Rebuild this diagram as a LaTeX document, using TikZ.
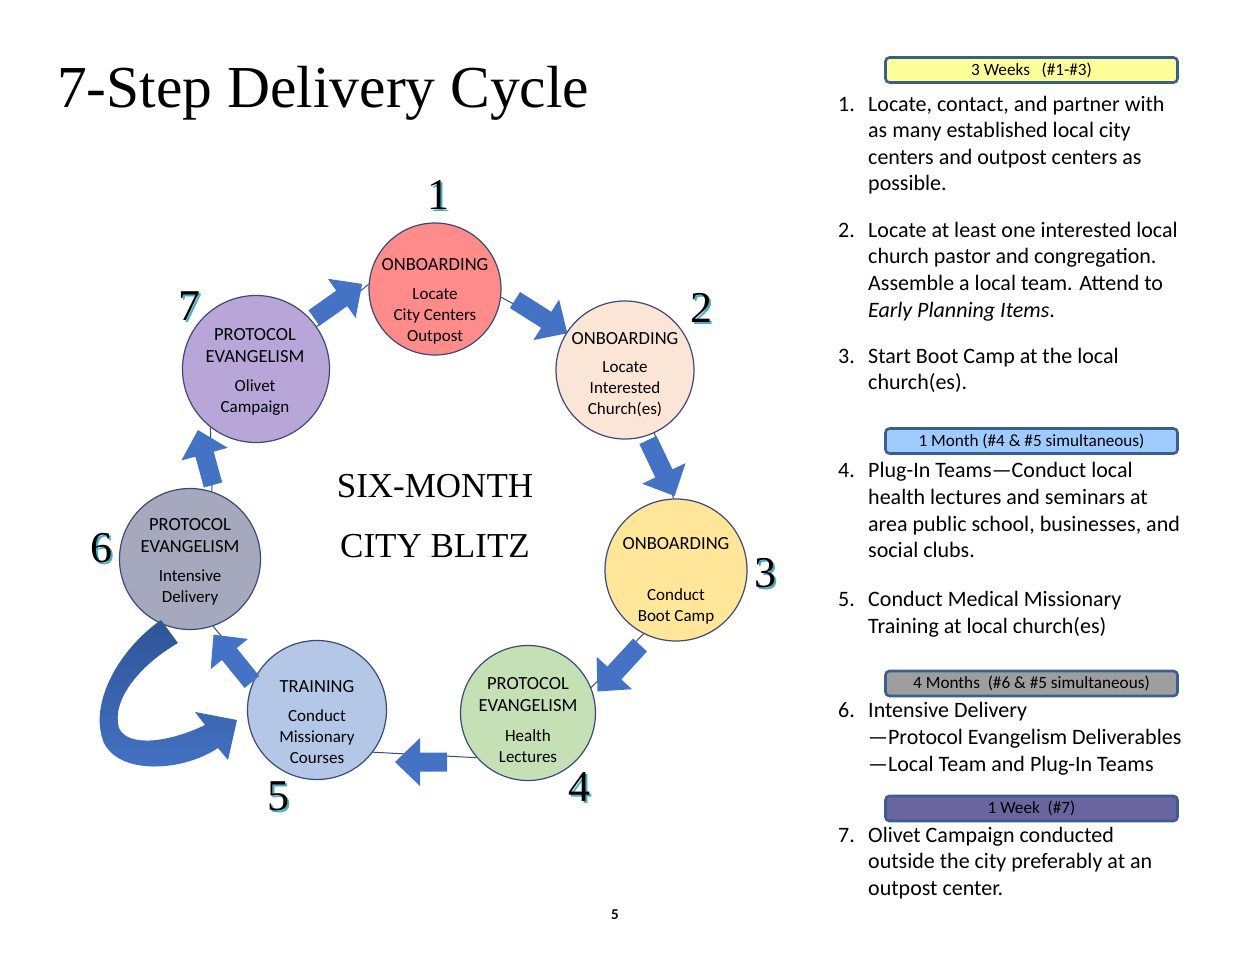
\documentclass[tikz,border=0pt]{standalone}
\usepackage{fontspec}
\setmainfont{Carlito}
\newfontfamily\serifx{Liberation Serif}
\definecolor{arrowblue}{HTML}{4472C4}
\definecolor{arrowdark}{HTML}{2F5597}
\definecolor{ringline}{HTML}{3B4A7A}
\definecolor{numblue}{HTML}{4BACC6}
\definecolor{boxline}{HTML}{3A5F8F}
\definecolor{cone}{HTML}{FF8B8B}
\definecolor{ctwo}{HTML}{FBE5D6}
\definecolor{cthree}{HTML}{FFE699}
\definecolor{cfour}{HTML}{C5E0B4}
\definecolor{cfive}{HTML}{B4C7E7}
\definecolor{csix}{HTML}{A6A8BE}
\definecolor{cseven}{HTML}{B8A6D9}
\definecolor{byellow}{HTML}{FFFF99}
\definecolor{bblue}{HTML}{9FCBFF}
\definecolor{bgray}{HTML}{9E9E9E}
\definecolor{bpurple}{HTML}{6A659E}
\begin{document}
\begin{tikzpicture}[x=1pt,y=-1pt,
  stepcircle/.style={circle,draw=ringline,line width=1.2pt,inner sep=0pt},
  head/.style={font=\fontsize{18.5}{22}\selectfont,align=center,inner sep=0pt},
  sub/.style={font=\fontsize{17}{21}\selectfont,align=center,inner sep=0pt},
  conn/.style={draw=ringline,line width=1pt},
  numtxt/.style={font=\serifx\fontsize{44}{48}\selectfont,inner sep=0pt},
  numshadow/.style={numtxt,text=numblue},
  item/.style={font=\fontsize{22}{26}\selectfont,anchor=base west,inner sep=0pt},
  periodbox/.style={draw=boxline,line width=2.6pt,rounded corners=4pt,minimum width=292pt,minimum height=25pt,inner sep=0pt,font=\fontsize{17.2}{20}\selectfont},
  pics/barrow/.style={code={\fill[arrowblue] (0pt,-9.5pt) -- ({#1-25},-9.5pt) -- ({#1-25},-24pt) -- (#1,0pt) -- ({#1-25},24pt) -- ({#1-25},9.5pt) -- (0pt,9.5pt) -- cycle;}}
]
\useasboundingbox (0,0) rectangle (1237,956);
\fill[white] (0,0) rectangle (1237,956);

% title
\node[anchor=base west,font=\serifx\fontsize{59.5}{66}\selectfont,inner sep=0pt] (title) at (57,107) {7-Step Delivery Cycle};

% circles
\node[stepcircle,fill=cone,minimum size=132pt] (c1) at (435,289) {};
\node[stepcircle,fill=ctwo,minimum size=138pt] (c2) at (625,370) {};
\node[stepcircle,fill=cthree,minimum size=142pt] (c3) at (676,570) {};
\node[stepcircle,fill=cfour,minimum size=135pt] (c4) at (528,713) {};
\node[stepcircle,fill=cfive,minimum size=139pt] (c5) at (317,710) {};
\node[stepcircle,fill=csix,minimum size=141pt] (c6) at (190,559) {};
\node[stepcircle,fill=cseven,minimum size=147pt] (c7) at (256,369) {};

% thin connectors
\draw[conn] (c1.-7) -- (c2.148);
\draw[conn] (c2.-65) -- (c3.92);
\draw[conn] (c3.243) -- (c4.22);
\draw[conn] (c4.221) -- (c5.-37);
\draw[conn] (c5.152) -- (c6.-71);
\draw[conn] (c6.72) -- (c7.-128);
\draw[conn] (c7.35) -- (c1.176);

% block arrows
\pic[rotate=35.3] (a71) at (314,318) {barrow=59};
\pic[rotate=-32.4] (a12) at (515,300) {barrow=62};
\pic[rotate=-64.6] (a23) at (648,440) {barrow=62};
\pic[rotate=-132.5] (a34) at (640,645) {barrow=63};
\pic[rotate=180] (a45) at (447,762) {barrow=52};
\pic[rotate=129.1] (a56) at (252,682) {barrow=61};
\pic[rotate=105.3] (a67) at (213,485) {barrow=57};

% curved arrow from 6 to 5
\shade[top color=arrowdark,bottom color=arrowblue]
  (161,620) .. controls (118,650) and (88,705) .. (104,743)
  .. controls (120,775) and (182,772) .. (218,748)
  -- (228,760) -- (237,720) -- (195,712) -- (205,725)
  .. controls (170,742) and (128,748) .. (119,728)
  .. controls (111,700) and (140,665) .. (178,643) -- cycle;

% circle texts
\node[head] (h1) at (435,265) {ONBOARDING};
\node[sub] (s1) at (435,316) {Locate\\City Centers\\Outpost};
\node[head] (h2) at (625,339) {ONBOARDING};
\node[sub] (s2) at (625,389) {Locate\\Interested\\Church(es)};
\node[head] (h3) at (676,544) {ONBOARDING};
\node[sub] (s3) at (676,606.5) {Conduct\\Boot Camp};
\node[head] (h4) at (528,695) {PROTOCOL\\EVANGELISM};
\node[sub] (s4) at (528,746.5) {Health\\Lectures};
\node[head] (h5) at (317,687) {TRAINING};
\node[sub] (s5) at (317,737) {Conduct\\Missionary\\Courses};
\node[head] (h6) at (190,535.5) {PROTOCOL\\EVANGELISM};
\node[sub] (s6) at (190,587.5) {Intensive\\Delivery};
\node[head] (h7) at (255,346) {PROTOCOL\\EVANGELISM};
\node[sub] (s7) at (255,397.5) {Olivet\\Campaign};

% step numbers
\foreach \n/\x/\y in {1/438/195,2/701/308,3/765/573,4/579/787,5/278/796,6/101/548,7/189/306}{
  \node[numshadow] (ns\n) at (\x+2,\y+2) {\n};
  \node[numtxt] (n\n) at (\x,\y) {\n};
}

% centre text
\node[font=\serifx\fontsize{35}{40}\selectfont,inner sep=0pt] (six) at (435,486) {SIX-MONTH};
\node[font=\serifx\fontsize{35}{40}\selectfont,inner sep=0pt] (city) at (435,546) {CITY BLITZ};

% period boxes
\node[periodbox,fill=byellow] (b1) at (1031.5,70) {3 Weeks\ \ \ (\#1-\#3)};
\node[periodbox,fill=bblue] (b2) at (1031.5,441) {1 Month (\#4 \& \#5 simultaneous)};
\node[periodbox,fill=bgray] (b3) at (1031.5,683.5) {4 Months\ \ (\#6 \& \#5 simultaneous)};
\node[periodbox,fill=bpurple] (b4) at (1031.5,808.5) {1 Week\ \ (\#7)};

% list numbers
\foreach \k/\y in {1/111,2/237,3/363,4/477,5/606,6/717,7/842}{
  \node[item] (num\k) at (838,\y) {\k.};
}
% list lines
\foreach \y/\t [count=\i] in {
  111/{Locate, contact, and partner with},
  137/{as many established local city},
  164/{centers and outpost centers as},
  190/{possible.},
  237/{Locate at least one interested local},
  263/{church pastor and congregation.},
  290/{Assemble a local team. Attend to},
  317/{\textit{Early Planning Items}.},
  363/{Start Boot Camp at the local},
  389/{church(es).},
  477/{Plug-In Teams—Conduct local},
  504/{health lectures and seminars at},
  531/{area public school, businesses, and},
  557/{social clubs.},
  606/{Conduct Medical Missionary},
  633/{Training at local church(es)},
  717/{Intensive Delivery},
  744/{—Protocol Evangelism Deliverables},
  771/{—Local Team and Plug-In Teams},
  842/{Olivet Campaign conducted},
  868/{outside the city preferably at an},
  895/{outpost center.}}{
  \node[item] (line\i) at (868,\y) {\t};
}

% page number
\node[font=\bfseries\fontsize{15}{18}\selectfont,inner sep=0pt] (page) at (615,915) {5};
\end{tikzpicture}
\end{document}
